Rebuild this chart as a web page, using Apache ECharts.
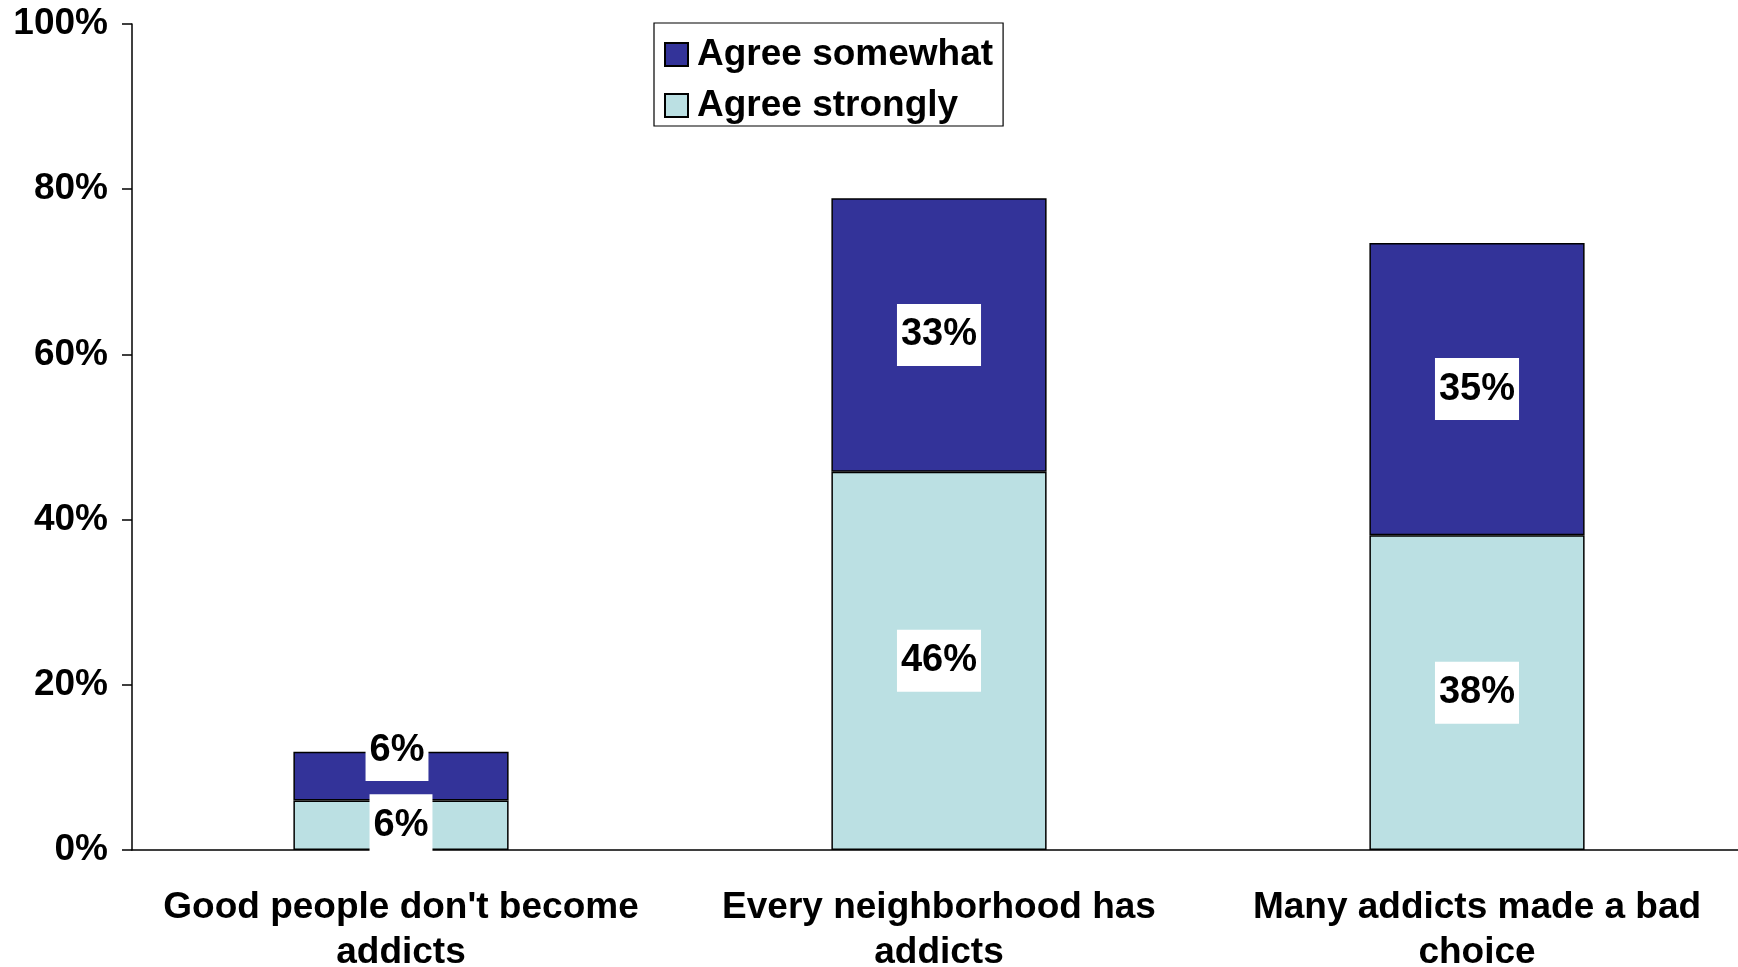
<!DOCTYPE html>
<html><head><meta charset="utf-8">
<script src="https://cdn.jsdelivr.net/npm/echarts@6/dist/echarts.min.js"></script>
<style>html,body{margin:0;padding:0;background:#fff}#c{width:1738px;height:967px}</style>
</head><body><div id="c"></div>
<script>
const categories = ["Good people don't become\naddicts", "Every neighborhood has\naddicts", "Many addicts made a bad\nchoice"];
const seriesNames = ["Agree strongly", "Agree somewhat"];
const agreeStrongly = [6.0, 45.8, 38.1];
const agreeSomewhat = [5.9, 33.1, 35.4];
const yTicks = [0, 20, 40, 60, 80, 100];

const FONT = "'Liberation Sans', Arial, sans-serif";
const labelStyle = {
  show: true, position: 'inside', color: '#000', fontFamily: FONT, fontWeight: 'bold', fontSize: 38,
  backgroundColor: '#fff', padding: [13, 4, 11, 4],
  formatter: p => Math.round(p.value) + '%'
};
function mk(arr, special) {
  return arr.map((v, i) => (special && special[i]) ? { value: v, label: special[i] } : v);
}
const chart = echarts.init(document.getElementById('c'), null, { renderer: 'canvas' });
chart.setOption({
  animation: false,
  backgroundColor: '#fff',
  grid: { left: 132, right: -8, top: 24, bottom: 117, containLabel: false, outerBoundsMode: 'none' },
  legend: {
    orient: 'vertical', left: 654, top: 23,
    data: ['Agree somewhat', 'Agree strongly'],
    borderColor: '#000', borderWidth: 1.2, padding: [13, 10, 2, 10],
    itemWidth: 23, itemHeight: 23, itemGap: 14, icon: 'rect',
    textStyle: { fontFamily: FONT, fontWeight: 'bold', fontSize: 37, color: '#000', padding: [0, 0, 0, 4] }
  },
  xAxis: {
    type: 'category', data: categories,
    axisLine: { lineStyle: { color: '#000', width: 1.5 } },
    axisTick: { show: false },
    axisLabel: { color: '#000', fontFamily: FONT, fontWeight: 'bold', fontSize: 37, lineHeight: 45, margin: 35, interval: 0 }
  },
  yAxis: {
    type: 'value', min: 0, max: 100, interval: 20,
    axisLine: { show: true, lineStyle: { color: '#000', width: 1.5 } },
    axisTick: { show: true, length: 10, lineStyle: { color: '#000', width: 1.5 } },
    splitLine: { show: false },
    axisLabel: { color: '#000', fontFamily: FONT, fontWeight: 'bold', fontSize: 37, margin: 24,
      formatter: v => yTicks.includes(v) ? v + '%' : '' }
  },
  series: [
    {
      name: seriesNames[0], type: 'bar', stack: 'a', data: mk(agreeStrongly),
      barCategoryGap: '60%',
      itemStyle: { color: '#BBE0E3', borderColor: '#000', borderWidth: 1.5 },
      label: labelStyle
    },
    {
      name: seriesNames[1], type: 'bar', stack: 'a',
      data: mk(agreeSomewhat, [{ offset: [-4, -26] }]),
      barCategoryGap: '60%',
      itemStyle: { color: '#333399', borderColor: '#000', borderWidth: 1.5 },
      label: labelStyle
    }
  ]
});
</script></body></html>
